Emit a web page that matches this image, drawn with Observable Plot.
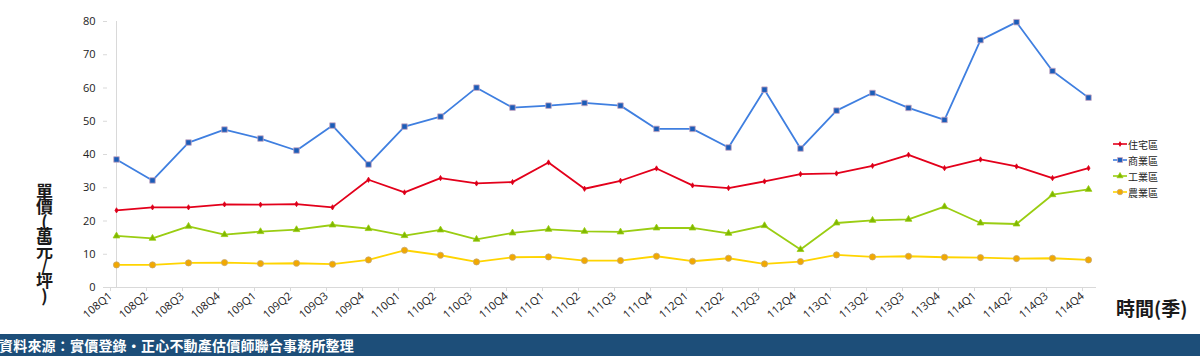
<!DOCTYPE html>
<html>
<head>
<meta charset="utf-8">
<script src="https://cdn.jsdelivr.net/npm/d3@7"></script>
<script src="https://cdn.jsdelivr.net/npm/@observablehq/plot@0.6"></script>
<style>
  html, body { margin: 0; padding: 0; background: #fff; }
  #wrap { position: relative; width: 1200px; height: 356px; overflow: hidden; font-family: "Open Sans", "Noto Sans CJK TC", sans-serif; }
  #chart svg { display: block; }
  #ytitle { position: absolute; left: 36px; top: 183px; writing-mode: vertical-rl; text-orientation: upright; font: bold 17px "Noto Sans CJK TC", sans-serif; color: #1a1a1a; letter-spacing: -2.2px; line-height: 1; }
  #xtitle { position: absolute; left: 1116px; top: 294px; font: bold 19px "Noto Sans CJK TC", sans-serif; color: #1a1a1a; }
  #legend { position: absolute; left: 1113px; top: 136px; font: 10px "Noto Sans CJK TC", sans-serif; color: #222; }
  #legend .row { display: flex; align-items: center; height: 16px; }
  #legend svg { margin-right: 1px; }
  #footer { position: absolute; left: 0; top: 334px; width: 1200px; height: 22px; background: #1d4e79; color: #fff; font: bold 14px "Noto Sans CJK TC", sans-serif; line-height: 22px; text-indent: -1px; white-space: nowrap; letter-spacing: 0.2px; }
</style>
</head>
<body>
<div id="wrap">
  <div id="chart"></div>
  <div id="ytitle">單價(萬元/坪)</div>
  <div id="xtitle">時間(季)</div>
  <div id="legend"></div>
  <div id="footer">資料來源：實價登錄・正心不動產估價師聯合事務所整理</div>
</div>
<script>
const quarters = ["108Q1","108Q2","108Q3","108Q4","109Q1","109Q2","109Q3","109Q4","110Q1","110Q2","110Q3","110Q4","111Q1","111Q2","111Q3","111Q4","112Q1","112Q2","112Q3","112Q4","113Q1","113Q2","113Q3","113Q4","114Q1","114Q2","114Q3","114Q4"];
const seriesNames = ["住宅區","商業區","工業區","農業區"];
const residential = [23.2,24.1,24.1,25.0,24.9,25.1,24.1,32.4,28.6,32.9,31.3,31.7,37.6,29.7,32.1,35.8,30.7,29.9,31.9,34.1,34.3,36.6,39.9,35.9,38.5,36.4,32.9,35.9];
const commercial = [38.5,32.2,43.6,47.5,44.8,41.2,48.7,37.0,48.4,51.4,60.1,54.1,54.7,55.5,54.7,47.7,47.7,42.1,59.5,41.8,53.2,58.5,54.0,50.4,74.4,79.8,65.1,57.1];
const industrial = [15.5,14.8,18.4,15.9,16.8,17.4,18.8,17.7,15.6,17.3,14.5,16.4,17.5,16.9,16.7,17.9,17.9,16.3,18.6,11.4,19.4,20.2,20.5,24.3,19.4,19.1,27.9,29.5];
const agricultural = [6.8,6.8,7.4,7.5,7.2,7.3,7.0,8.3,11.2,9.7,7.7,9.1,9.2,8.1,8.1,9.4,7.9,8.8,7.1,7.8,9.8,9.2,9.4,9.1,9.0,8.7,8.8,8.3];
const yTicks = [0,10,20,30,40,50,60,70,80];

const styles = {
  "住宅區": {line: "#e3001b", fill: "#d4001a", stroke: "#e3001b", symbol: "diamond", r: 1.6},
  "商業區": {line: "#3f7fe0", fill: "#1b5cb8", stroke: "#c9a6c0", symbol: "square", r: 3.1},
  "工業區": {line: "#9acd12", fill: "#7fb800", stroke: "#9acd12", symbol: "triangle", r: 2.5},
  "農業區": {line: "#ffd400", fill: "#f2a800", stroke: "#c8a870", symbol: "circle", r: 3.1}
};

const seriesValues = [residential, commercial, industrial, agricultural];
const data = [];
seriesNames.forEach((name, i) => {
  seriesValues[i].forEach((v, j) => data.push({series: name, q: quarters[j], v}));
});

const marks = [
  Plot.ruleY([0], {stroke: "#d9d9d9", strokeWidth: 1}),
  Plot.ruleX([quarters[0]], {stroke: "#d9d9d9", strokeWidth: 1}),
  Plot.axisY({ticks: yTicks, tickSize: 4, tickPadding: 8, stroke: "#d9d9d9", fill: "#222", fontSize: 11, label: null}),
  Plot.axisX({tickRotate: -40, tickSize: 4, tickPadding: 3, dx: -6, stroke: "#d9d9d9", fill: "#222", fontSize: 11, label: null})
];
for (const name of seriesNames) {
  const s = styles[name];
  const d = data.filter(e => e.series === name);
  marks.push(Plot.line(d, {x: "q", y: "v", stroke: s.line, strokeWidth: 1.8}));
}
for (const name of seriesNames) {
  const s = styles[name];
  const d = data.filter(e => e.series === name);
  marks.push(Plot.dot(d, {x: "q", y: "v", symbol: s.symbol, r: s.r, fill: s.fill, stroke: s.stroke, strokeWidth: 0.8}));
}

const chart = Plot.plot({
  width: 1200,
  height: 334,
  marginLeft: 107,
  marginRight: 104,
  marginTop: 21,
  marginBottom: 47,
  style: {fontFamily: "'Open Sans', 'Noto Sans', sans-serif", fontSize: "11px", background: "#fff"},
  x: {type: "point", domain: quarters, padding: 0},
  y: {domain: [0, 80]},
  marks
});
document.getElementById("chart").appendChild(chart);

// legend
const legend = document.getElementById("legend");
const symMap = {circle: d3.symbolCircle, square: d3.symbolSquare, triangle: d3.symbolTriangle, diamond: d3.symbolDiamond};
for (const name of seriesNames) {
  const s = styles[name];
  const row = document.createElement("div");
  row.className = "row";
  const svg = d3.create("svg").attr("width", 14).attr("height", 10);
  svg.append("line").attr("x1", 0).attr("x2", 14).attr("y1", 5).attr("y2", 5).attr("stroke", s.line).attr("stroke-width", 1.6);
  svg.append("path").attr("d", d3.symbol(symMap[s.symbol], Math.PI * s.r * s.r * 0.8)()).attr("transform", "translate(7,5)")
    .attr("fill", s.fill).attr("stroke", s.stroke).attr("stroke-width", 0.8);
  row.appendChild(svg.node());
  const span = document.createElement("span");
  span.textContent = name;
  row.appendChild(span);
  legend.appendChild(row);
}
</script>
</body>
</html>
